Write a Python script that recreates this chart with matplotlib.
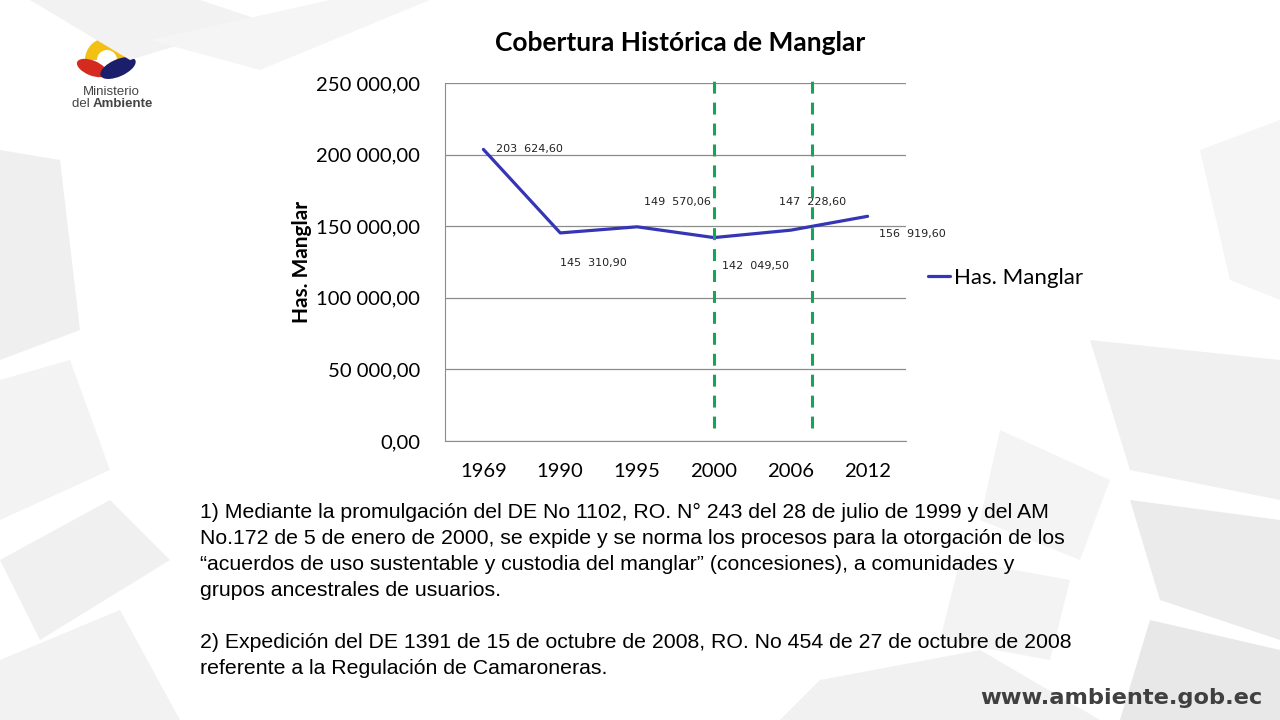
import matplotlib
matplotlib.use("Agg")
import matplotlib.pyplot as plt
from matplotlib.patches import Polygon, Ellipse, Wedge
from matplotlib.ticker import FuncFormatter

# ---- data ----
years = ["1969", "1990", "1995", "2000", "2006", "2012"]
hectares = [203624.60, 145310.90, 149570.06, 142049.50, 147228.60, 156919.60]
value_labels = ["203  624,60", "145  310,90", "149  570,06", "142  049,50", "147  228,60", "156  919,60"]
marker_lines_x = [3.0, 4.28]          # green dashed reference lines (category units)
title = "Cobertura Histórica de Manglar"
ylabel = "Has. Manglar"
series_name = "Has. Manglar"
notes = [
    "1) Mediante la promulgación del DE No 1102, RO. N° 243 del 28 de julio de 1999 y del AM",
    "No.172 de 5 de enero de 2000, se expide y se norma los procesos para la otorgación de los",
    "“acuerdos de uso sustentable y custodia del manglar” (concesiones), a comunidades y",
    "grupos ancestrales de usuarios.",
    "",
    "2) Expedición del DE 1391 de 15 de octubre de 2008, RO. No 454 de 27 de octubre de 2008",
    "referente a la Regulación de Camaroneras.",
]

W, H = 1280, 720
fig = plt.figure(figsize=(12.8, 7.2), dpi=100)
fig.patch.set_facecolor("white")

def px(x, y):
    return (x / W, 1 - y / H)

# ---- decorative background shapes ----
shapes = [
    ([(30, 0), (200, 0), (260, 20), (130, 60)], "#f2f2f2"),
    ([(150, 40), (330, 0), (430, 0), (260, 70)], "#f5f5f5"),
    ([(0, 150), (60, 160), (80, 330), (0, 360)], "#efefef"),
    ([(0, 380), (70, 360), (110, 470), (0, 520)], "#f3f3f3"),
    ([(0, 560), (110, 500), (170, 560), (40, 640)], "#f0f0f0"),
    ([(0, 660), (120, 610), (180, 720), (0, 720)], "#f2f2f2"),
    ([(1090, 340), (1280, 360), (1280, 500), (1130, 470)], "#f0f0f0"),
    ([(1000, 430), (1110, 480), (1080, 560), (980, 520)], "#f4f4f4"),
    ([(1130, 500), (1280, 520), (1280, 640), (1160, 600)], "#ebebeb"),
    ([(960, 560), (1070, 580), (1050, 660), (940, 640)], "#f3f3f3"),
    ([(1150, 620), (1280, 650), (1280, 720), (1120, 720)], "#e8e8e8"),
    ([(820, 680), (980, 650), (1100, 720), (780, 720)], "#f1f1f1"),
    ([(1200, 150), (1280, 120), (1280, 300), (1230, 280)], "#f5f5f5"),
]
for pts, col in shapes:
    fig.patches.append(Polygon([px(x, y) for x, y in pts], closed=True,
                               transform=fig.transFigure, facecolor=col,
                               edgecolor="none", zorder=0))

# ---- logo ----
la = fig.add_axes([60 / W, 1 - 88 / H, 90 / W, 60 / H])
la.set_xlim(0, 90); la.set_ylim(0, 60); la.axis("off")
la.add_patch(Wedge((47, 28), 22, 0, 180, facecolor="#f2c114", edgecolor="none"))
la.add_patch(Wedge((47, 28), 10, 0, 180, facecolor="white", edgecolor="none"))
la.add_patch(Ellipse((32, 20), 32, 15, angle=-22, facecolor="#d52b1e", edgecolor="none"))
la.add_patch(Ellipse((58, 20), 38, 17, angle=24, facecolor="#1b1f6b", edgecolor="none"))
fig.text(111 / W, 1 - 92 / H, "Ministerio", ha="center", va="center",
         fontsize=9.5, color="#444444", family="Liberation Sans")
fig.text(72 / W, 1 - 104 / H, "del ", ha="left", va="center",
         fontsize=9.5, color="#444444", family="Liberation Sans")
fig.text(93 / W, 1 - 104 / H, "Ambiente", ha="left", va="center",
         fontsize=9.5, color="#444444", family="Liberation Sans", fontweight="bold")

# ---- chart ----
ax = fig.add_axes([445 / W, 1 - 441 / H, 461 / W, 358 / H])
ax.set_facecolor("none")
x = list(range(len(years)))
line, = ax.plot(x, hectares, color="#3535b5", lw=2.3, solid_capstyle="round",
                label=series_name, zorder=3)
ax.set_xlim(-0.5, len(years) - 0.5)
ax.set_ylim(0, 250000)
ax.set_yticks(range(0, 250001, 50000))
ax.yaxis.set_major_formatter(FuncFormatter(
    lambda v, p: f"{v:,.2f}".replace(",", " ").replace(".", ",")))
ax.set_xticks(x)
ax.set_xticklabels(years)
ax.grid(axis="y", color="#8c8c8c", lw=0.9)
ax.set_axisbelow(True)
for s in ["top", "right"]:
    ax.spines[s].set_visible(False)
for s in ["left", "bottom"]:
    ax.spines[s].set_color("#8c8c8c")
ax.tick_params(axis="both", length=0, labelsize=14.6, colors="black")
ax.tick_params(axis="x", pad=16)
ax.tick_params(axis="y", pad=18)
for lab in ax.get_xticklabels() + ax.get_yticklabels():
    lab.set_family("Lato")
ax.set_ylabel(ylabel, fontsize=15, fontweight="bold", family="Lato", labelpad=3)

offsets = [(13, 0), (33, -30), (40, 25), (42, -28), (22, 28), (45, -18)]
aligns = ["left", "center", "center", "center", "center", "center"]
for xi, yi, lab, off, al in zip(x, hectares, value_labels, offsets, aligns):
    ax.annotate(lab, (xi, yi), xytext=off, textcoords="offset pixels",
                ha=al, va="center", fontsize=8, family="DejaVu Sans", color="#222222")

for xv in marker_lines_x:
    ax.axvline(xv, ymin=0.036, ymax=1.008, color="#17a458", lw=2.2,
               linestyle=(0, (3.9, 2.95)), zorder=4, clip_on=False)

fig.text(680 / W, 1 - 43 / H, title, ha="center", va="center",
         fontsize=19, fontweight="bold", family="Lato")

leg = ax.legend(handles=[line], loc="center left", bbox_to_anchor=(1.048, 0.455),
                frameon=False, prop={"family": "Lato", "size": 16},
                handlelength=1.0, handletextpad=0.15, borderpad=0, borderaxespad=0)

# ---- notes ----
y0 = 512
for i, t in enumerate(notes):
    fig.text(200 / W, 1 - (y0 + i * 26) / H, t, ha="left", va="center",
             fontsize=15.3, family="Liberation Sans", color="black")

fig.text(1262 / W, 1 - 698 / H, "www.ambiente.gob.ec", ha="right", va="center",
         fontsize=16.2, fontweight="bold", family="DejaVu Sans", color="#404040")

fig.savefig("out.png", dpi=100)
